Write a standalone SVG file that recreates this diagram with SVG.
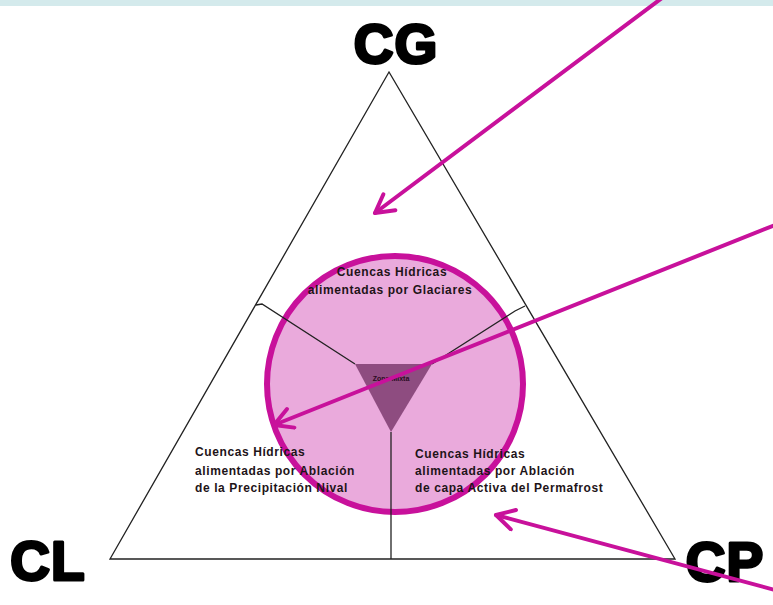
<svg xmlns="http://www.w3.org/2000/svg" width="773" height="605" viewBox="0 0 773 605">
<defs>
<style>
.big{font-family:"Liberation Sans",Arial,sans-serif;font-weight:bold;font-size:55px;fill:#000;stroke:#000;stroke-width:3;stroke-linejoin:round;letter-spacing:1px}
.lbl{font-family:"Liberation Sans",Arial,sans-serif;font-weight:bold;font-size:12px;letter-spacing:0.6px;fill:#1e1418}
.edge{fill:none;stroke:#222;stroke-width:1.3}
.arrow{fill:none;stroke:#c8119b;stroke-width:4;stroke-linecap:round}
</style>
<marker id="ah" markerUnits="userSpaceOnUse" markerWidth="30" markerHeight="30" refX="22" refY="12" orient="auto">
<path d="M4,2 L22,12 L4,22" fill="none" stroke="#c8119b" stroke-width="4" stroke-linecap="round" stroke-linejoin="round"/>
</marker>
</defs>
<rect x="0" y="0" width="773" height="605" fill="#fff"/>
<rect x="0" y="0" width="773" height="6" fill="#d4eaec"/>
<g id="triangle">
<polygon class="edge" points="389,72 110,559 675,559"/>
</g>
<g id="circle">
<circle cx="395" cy="384" r="128" fill="#eaaadc" stroke="#c8119b" stroke-width="6"/>
</g>
<g id="dividers">
<polyline class="edge" points="256,305 262,304 355,364"/>
<polyline class="edge" points="525,306 515,311 432,364"/>
<line class="edge" x1="391" y1="432" x2="391" y2="559"/>
</g>
<g id="center">
<polygon points="355,364 432,364 391,432" fill="#8e4c80"/>
<text x="391" y="381" text-anchor="middle" font-family="Liberation Sans,Arial,sans-serif" font-weight="bold" font-size="7" fill="#2a0a20">Zona Mixta</text>
</g>
<g id="CG">
<text class="big" x="396" y="63" text-anchor="middle">CG</text>
</g>
<g id="CL">
<text class="big" x="48" y="580" text-anchor="middle">CL</text>
</g>
<g id="CP">
<text class="big" x="725" y="581" text-anchor="middle">CP</text>
</g>
<g id="glaciares">
<text class="lbl" x="392" y="276" text-anchor="middle">Cuencas Hídricas</text>
<text class="lbl" x="390" y="294" text-anchor="middle">alimentadas por Glaciares</text>
</g>
<g id="nival">
<text class="lbl" x="195" y="456">Cuencas Hídricas</text>
<text class="lbl" x="195" y="475">alimentadas por Ablación</text>
<text class="lbl" x="195" y="492">de la Precipitación Nival</text>
</g>
<g id="permafrost">
<text class="lbl" x="415" y="458">Cuencas Hídricas</text>
<text class="lbl" x="415" y="475">alimentadas por Ablación</text>
<text class="lbl" x="415" y="492">de capa Activa del Permafrost</text>
</g>
<g id="connectors">
<line class="arrow" x1="662" y1="-2" x2="375" y2="213" marker-end="url(#ah)"/>
<line class="arrow" x1="775" y1="225" x2="274" y2="425" marker-end="url(#ah)"/>
<line class="arrow" x1="775" y1="590" x2="496" y2="515" marker-end="url(#ah)"/>
</g>
</svg>
